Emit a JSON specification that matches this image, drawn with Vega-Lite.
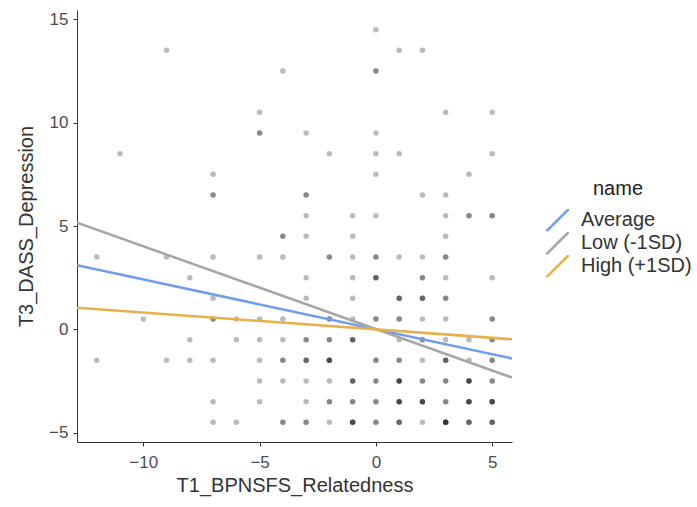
{
  "$schema": "https://vega.github.io/schema/vega-lite/v6.json",
  "width": 435,
  "height": 432,
  "autosize": {"type": "none"},
  "padding": {"left": 77, "top": 10, "right": 185, "bottom": 65},
  "config": {
    "view": {"stroke": null},
    "font": "Liberation Sans",
    "axis": {
      "grid": false,
      "domainColor": "#333333",
      "tickColor": "#333333",
      "tickSize": 4,
      "labelColor": "#4d4d4d",
      "labelFontSize": 17,
      "labelFont": "Liberation Sans",
      "titleFont": "Liberation Sans",
      "titleFontSize": 20,
      "titleFontWeight": "normal",
      "titleColor": "#333333"
    }
  },
  "datasets": {
    "pts": [
      {"x": -12, "y": 3.5}, {"x": -12, "y": -1.5},
      {"x": -11, "y": 8.5},
      {"x": -10, "y": 0.5},
      {"x": -9, "y": 13.5}, {"x": -9, "y": 3.5}, {"x": -9, "y": -1.5},
      {"x": -8, "y": 2.5}, {"x": -8, "y": -0.5}, {"x": -8, "y": -1.5},
      {"x": -7, "y": 7.5}, {"x": -7, "y": 6.5}, {"x": -7, "y": 6.5}, {"x": -7, "y": 3.5}, {"x": -7, "y": 1.5}, {"x": -7, "y": 0.5}, {"x": -7, "y": 0.5}, {"x": -7, "y": -1.5}, {"x": -7, "y": -3.5}, {"x": -7, "y": -4.5},
      {"x": -6, "y": 0.5}, {"x": -6, "y": -0.5}, {"x": -6, "y": -4.5},
      {"x": -5, "y": 10.5}, {"x": -5, "y": 9.5}, {"x": -5, "y": 9.5}, {"x": -5, "y": 3.5}, {"x": -5, "y": 0.5}, {"x": -5, "y": -0.5}, {"x": -5, "y": -1.5}, {"x": -5, "y": -2.5}, {"x": -5, "y": -3.5},
      {"x": -4, "y": 12.5}, {"x": -4, "y": 4.5}, {"x": -4, "y": 4.5}, {"x": -4, "y": 3.5}, {"x": -4, "y": 0.5}, {"x": -4, "y": -0.5}, {"x": -4, "y": -1.5}, {"x": -4, "y": -1.5}, {"x": -4, "y": -2.5}, {"x": -4, "y": -4.5}, {"x": -4, "y": -4.5},
      {"x": -3, "y": 9.5}, {"x": -3, "y": 6.5}, {"x": -3, "y": 6.5}, {"x": -3, "y": 5.5}, {"x": -3, "y": 4.5}, {"x": -3, "y": 2.5}, {"x": -3, "y": 1.5}, {"x": -3, "y": -0.5}, {"x": -3, "y": -0.5}, {"x": -3, "y": -1.5}, {"x": -3, "y": -1.5}, {"x": -3, "y": -1.5}, {"x": -3, "y": -2.5}, {"x": -3, "y": -3.5}, {"x": -3, "y": -4.5}, {"x": -3, "y": -4.5},
      {"x": -2, "y": 8.5}, {"x": -2, "y": 3.5}, {"x": -2, "y": 3.5}, {"x": -2, "y": 0.5}, {"x": -2, "y": 0.5}, {"x": -2, "y": -0.5}, {"x": -2, "y": -0.5}, {"x": -2, "y": -1.5}, {"x": -2, "y": -1.5}, {"x": -2, "y": -1.5}, {"x": -2, "y": -1.5}, {"x": -2, "y": -2.5}, {"x": -2, "y": -3.5}, {"x": -2, "y": -3.5}, {"x": -2, "y": -4.5},
      {"x": -1, "y": 5.5}, {"x": -1, "y": 4.5}, {"x": -1, "y": 3.5}, {"x": -1, "y": 2.5}, {"x": -1, "y": 1.5}, {"x": -1, "y": 0.5}, {"x": -1, "y": -0.5}, {"x": -1, "y": -0.5}, {"x": -1, "y": -0.5}, {"x": -1, "y": -2.5}, {"x": -1, "y": -2.5}, {"x": -1, "y": -2.5}, {"x": -1, "y": -3.5}, {"x": -1, "y": -3.5}, {"x": -1, "y": -4.5}, {"x": -1, "y": -4.5}, {"x": -1, "y": -4.5}, {"x": -1, "y": -4.5},
      {"x": 0, "y": 14.5}, {"x": 0, "y": 12.5}, {"x": 0, "y": 12.5}, {"x": 0, "y": 9.5}, {"x": 0, "y": 8.5}, {"x": 0, "y": 7.5}, {"x": 0, "y": 5.5}, {"x": 0, "y": 3.5}, {"x": 0, "y": 3.5}, {"x": 0, "y": 2.5}, {"x": 0, "y": 2.5}, {"x": 0, "y": 2.5}, {"x": 0, "y": 0.5}, {"x": 0, "y": 0.5}, {"x": 0, "y": -1.5}, {"x": 0, "y": -1.5}, {"x": 0, "y": -2.5}, {"x": 0, "y": -2.5}, {"x": 0, "y": -3.5}, {"x": 0, "y": -3.5}, {"x": 0, "y": -4.5}, {"x": 0, "y": -4.5},
      {"x": 1, "y": 13.5}, {"x": 1, "y": 8.5}, {"x": 1, "y": 3.5}, {"x": 1, "y": 1.5}, {"x": 1, "y": 1.5}, {"x": 1, "y": 1.5}, {"x": 1, "y": 0.5}, {"x": 1, "y": 0.5}, {"x": 1, "y": -0.5}, {"x": 1, "y": -1.5}, {"x": 1, "y": -1.5}, {"x": 1, "y": -2.5}, {"x": 1, "y": -2.5}, {"x": 1, "y": -2.5}, {"x": 1, "y": -2.5}, {"x": 1, "y": -3.5}, {"x": 1, "y": -3.5}, {"x": 1, "y": -3.5}, {"x": 1, "y": -3.5}, {"x": 1, "y": -4.5}, {"x": 1, "y": -4.5}, {"x": 1, "y": -4.5},
      {"x": 2, "y": 13.5}, {"x": 2, "y": 6.5}, {"x": 2, "y": 3.5}, {"x": 2, "y": 2.5}, {"x": 2, "y": 2.5}, {"x": 2, "y": 1.5}, {"x": 2, "y": 1.5}, {"x": 2, "y": 1.5}, {"x": 2, "y": 0.5}, {"x": 2, "y": -0.5}, {"x": 2, "y": -0.5}, {"x": 2, "y": -1.5}, {"x": 2, "y": -2.5}, {"x": 2, "y": -2.5}, {"x": 2, "y": -3.5}, {"x": 2, "y": -3.5}, {"x": 2, "y": -3.5}, {"x": 2, "y": -3.5}, {"x": 2, "y": -4.5},
      {"x": 3, "y": 10.5}, {"x": 3, "y": 6.5}, {"x": 3, "y": 5.5}, {"x": 3, "y": 4.5}, {"x": 3, "y": 3.5}, {"x": 3, "y": 3.5}, {"x": 3, "y": 2.5}, {"x": 3, "y": 1.5}, {"x": 3, "y": 1.5}, {"x": 3, "y": 0.5}, {"x": 3, "y": -0.5}, {"x": 3, "y": -1.5}, {"x": 3, "y": -1.5}, {"x": 3, "y": -1.5}, {"x": 3, "y": -2.5}, {"x": 3, "y": -2.5}, {"x": 3, "y": -3.5}, {"x": 3, "y": -3.5}, {"x": 3, "y": -4.5}, {"x": 3, "y": -4.5}, {"x": 3, "y": -4.5}, {"x": 3, "y": -4.5}, {"x": 3, "y": -4.5},
      {"x": 4, "y": 7.5}, {"x": 4, "y": 5.5}, {"x": 4, "y": 5.5}, {"x": 4, "y": -0.5}, {"x": 4, "y": -1.5}, {"x": 4, "y": -2.5}, {"x": 4, "y": -2.5}, {"x": 4, "y": -2.5}, {"x": 4, "y": -2.5}, {"x": 4, "y": -3.5}, {"x": 4, "y": -3.5}, {"x": 4, "y": -3.5}, {"x": 4, "y": -3.5}, {"x": 4, "y": -4.5}, {"x": 4, "y": -4.5}, {"x": 4, "y": -4.5},
      {"x": 5, "y": 10.5}, {"x": 5, "y": 8.5}, {"x": 5, "y": 5.5}, {"x": 5, "y": 5.5}, {"x": 5, "y": 2.5}, {"x": 5, "y": 0.5}, {"x": 5, "y": 0.5}, {"x": 5, "y": -0.5}, {"x": 5, "y": -0.5}, {"x": 5, "y": -1.5}, {"x": 5, "y": -1.5}, {"x": 5, "y": -2.5}, {"x": 5, "y": -2.5}, {"x": 5, "y": -3.5}, {"x": 5, "y": -3.5}, {"x": 5, "y": -3.5}, {"x": 5, "y": -3.5}, {"x": 5, "y": -4.5}, {"x": 5, "y": -4.5}, {"x": 5, "y": -4.5}
    ],
    "lines": [
      {"name": "Average", "x": -12.85, "y": 3.1},
      {"name": "Average", "x": 5.85, "y": -1.41},
      {"name": "Low (-1SD)", "x": -12.85, "y": 5.16},
      {"name": "Low (-1SD)", "x": 5.85, "y": -2.33},
      {"name": "High (+1SD)", "x": -12.85, "y": 1.05},
      {"name": "High (+1SD)", "x": 5.85, "y": -0.48}
    ]
  },
  "layer": [
    {
      "data": {"name": "pts"},
      "mark": {"type": "circle", "size": 30, "color": "#000000", "opacity": 0.27},
      "encoding": {
        "x": {"field": "x", "type": "quantitative", "title": "T1_BPNSFS_Relatedness",
              "scale": {"domain": [-12.85, 5.85], "nice": false, "zero": false},
              "axis": {"values": [-10, -5, 0, 5], "titlePadding": 5, "labelPadding": 8}},
        "y": {"field": "y", "type": "quantitative", "title": "T3_DASS_Depression",
              "scale": {"domain": [-5.45, 15.45], "nice": false, "zero": false},
              "axis": {"values": [-5, 0, 5, 10, 15], "titlePadding": 12, "labelPadding": 5}}
      }
    },
    {
      "data": {"name": "lines"},
      "mark": {"type": "line", "strokeWidth": 2.5, "clip": true},
      "encoding": {
        "x": {"field": "x", "type": "quantitative"},
        "y": {"field": "y", "type": "quantitative"},
        "color": {
          "field": "name", "type": "nominal", "title": "name",
          "sort": ["Average", "Low (-1SD)", "High (+1SD)"],
          "scale": {"domain": ["Average", "Low (-1SD)", "High (+1SD)"],
                    "range": ["#6d9eeb", "#a6a6a6", "#e8b04a"]},
          "legend": {
            "orient": "none", "legendX": 468, "legendY": 168.5,
            "symbolType": "M-1,1L1,-1", "symbolSize": 500, "symbolStrokeWidth": 2.5,
            "titleFontSize": 20, "titleFontWeight": "normal", "titleColor": "#222222",
            "titleFont": "Liberation Sans", "titleAnchor": "middle", "titlePadding": 10.5,
            "labelFontSize": 20, "labelColor": "#333333", "labelFont": "Liberation Sans",
            "rowPadding": 0, "clipHeight": 22.5, "labelOffset": 11
          }
        }
      }
    }
  ]
}
